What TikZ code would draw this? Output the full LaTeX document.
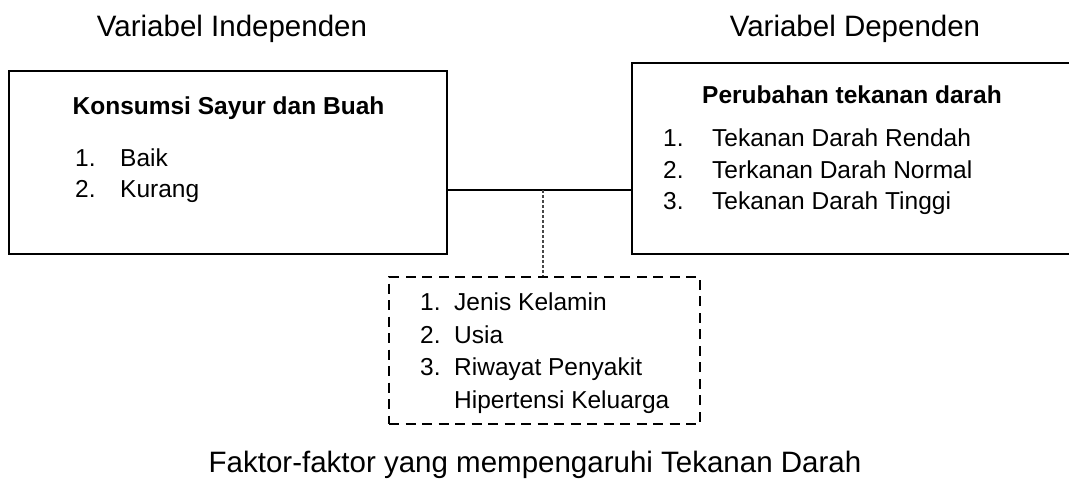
\documentclass[tikz,border=0pt]{standalone}
\usepackage{fontspec}
\setmainfont{Liberation Sans}
\begin{document}
\begin{tikzpicture}[x=1pt,y=-1pt,
  box/.style={draw=black,line width=2pt,rectangle,inner sep=0pt},
  dbox/.style={draw=black,line width=2pt,rectangle,inner sep=0pt,dash pattern=on 10pt off 6.5pt},
  body/.style={inner sep=0pt,anchor=base west,font=\fontsize{24.5}{30}\selectfont},
  btitle/.style={inner sep=0pt,anchor=base,font=\fontsize{24.5}{30}\selectfont\bfseries},
  label/.style={inner sep=0pt,anchor=base,font=\fontsize{29.5}{36}\selectfont},
  conn/.style={draw=black,line width=1.3pt},
  dotconn/.style={draw=black!72,line width=1.5pt,dash pattern=on 3pt off 2pt}]
\useasboundingbox (0,0) rectangle (1069,480);
% headings
\node[label] (hi) at (232,36) {Variabel Independen};
\node[label] (hd) at (855,36) {Variabel Dependen};
% boxes
\node[box,minimum width=438pt,minimum height=183pt] (L) at (228,162.5) {};
\node[box,minimum width=446pt,minimum height=191pt] (R) at (855,158.5) {};
\node[dbox,minimum width=311pt,minimum height=147pt] (D) at (544.5,350.5) {};
% left box text
\node[btitle] (lt) at (228.5,114) {Konsumsi Sayur dan Buah};
\node[body] (l1n) at (75,166) {1.};
\node[body] (l1) at (120,166) {Baik};
\node[body] (l2n) at (75,197) {2.};
\node[body] (l2) at (120,197) {Kurang};
% right box text
\node[btitle] (rt) at (852,103) {Perubahan tekanan darah};
\node[body] (r1n) at (663,146) {1.};
\node[body] (r1) at (712,146) {Tekanan Darah Rendah};
\node[body] (r2n) at (663,178) {2.};
\node[body] (r2) at (712,178) {Terkanan Darah Normal};
\node[body] (r3n) at (663,209.5) {3.};
\node[body] (r3) at (712,209.5) {Tekanan Darah Tinggi};
% dashed box text
\node[body] (d1n) at (420,310.5) {1.};
\node[body] (d1) at (454,310.5) {Jenis Kelamin};
\node[body] (d2n) at (420,343) {2.};
\node[body] (d2) at (454,343) {Usia};
\node[body] (d3n) at (420,375.5) {3.};
\node[body] (d3) at (454,375.5) {Riwayat Penyakit};
\node[body] (d4) at (454,408) {Hipertensi Keluarga};
% bottom label
\node[label] (bl) at (535,472) {Faktor-faktor yang mempengaruhi Tekanan Darah};
% connectors
\coordinate (ly) at (0,190);
\coordinate (mid) at (543,190);
\draw[conn] (L.east |- ly) -- (R.west |- ly);
\draw[dotconn] (mid) -- (mid |- D.north);
\end{tikzpicture}
\end{document}
